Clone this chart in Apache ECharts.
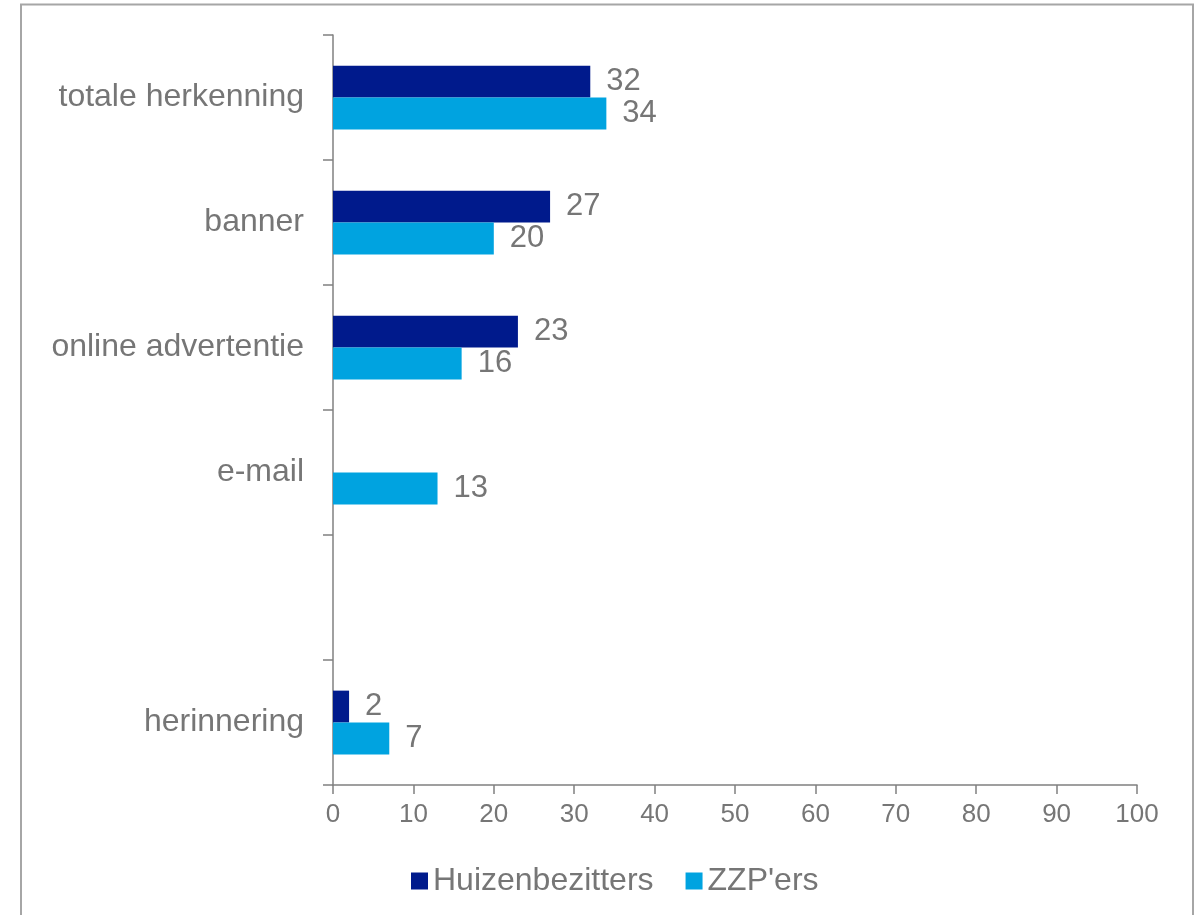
<!DOCTYPE html>
<html>
<head>
<meta charset="utf-8">
<script src="https://cdn.jsdelivr.net/npm/echarts@6/dist/echarts.min.js"></script>
<style>
  html, body { margin: 0; padding: 0; background: #ffffff; }
  #chart { width: 1198px; height: 915px; }
</style>
</head>
<body>
<div id="chart"></div>
<script>
// Categories, top to bottom (the blank slot keeps the gap above "herinnering")
const categories = ['totale herkenning', 'banner', 'online advertentie', 'e-mail', '', 'herinnering'];
const seriesNames = ['Huizenbezitters', "ZZP'ers"];
const huizenbezitters = [32, 27, 23, null, null, 2];
const zzpers = [34, 20, 16, 13, null, 7];
const xTicks = { min: 0, max: 100, interval: 10 };

const textColor = '#767676';
const axisColor = '#808080';
const font = 'Liberation Sans, Arial, sans-serif';

const chart = echarts.init(document.getElementById('chart'), null, { renderer: 'canvas' });

const labelStyle = {
  show: true,
  position: 'right',
  distance: 16,
  color: textColor,
  fontSize: 31,
  fontFamily: font
};

chart.setOption({
  backgroundColor: '#ffffff',
  animation: false,
  graphic: [{
    type: 'rect',
    shape: { x: 21, y: 4.5, width: 1172, height: 1000 },
    style: { fill: 'none', stroke: '#a6a6a6', lineWidth: 2 },
    silent: true
  }],
  grid: { left: 333, right: 61, top: 35, bottom: 130, containLabel: false },
  legend: {
    left: 406,
    top: 860,
    icon: 'rect',
    itemWidth: 17,
    itemHeight: 17,
    itemGap: 32,
    data: seriesNames,
    textStyle: { color: textColor, fontSize: 32, fontFamily: font, lineHeight: 30 }
  },
  xAxis: {
    type: 'value',
    min: xTicks.min,
    max: xTicks.max,
    interval: xTicks.interval,
    splitLine: { show: false },
    axisLine: { show: true, lineStyle: { color: axisColor, width: 1.5 } },
    axisTick: { show: true, length: 9, lineStyle: { color: axisColor, width: 1.5 } },
    axisLabel: { color: textColor, fontSize: 26, fontFamily: font, margin: 17 }
  },
  yAxis: {
    type: 'category',
    inverse: true,
    data: categories,
    axisLine: { show: true, lineStyle: { color: axisColor, width: 1.5 } },
    axisTick: { show: true, length: 10, lineStyle: { color: axisColor, width: 1.5 } },
    axisLabel: { color: textColor, fontSize: 32, fontFamily: font, margin: 29, padding: [3, 0, 0, 0] }
  },
  series: [
    {
      name: seriesNames[0],
      type: 'bar',
      data: huizenbezitters,
      barGap: '0%',
      barCategoryGap: '49%',
      itemStyle: { color: '#001a8c' },
      label: labelStyle
    },
    {
      name: seriesNames[1],
      type: 'bar',
      data: zzpers,
      barGap: '0%',
      barCategoryGap: '49%',
      itemStyle: { color: '#00a3e0' },
      label: labelStyle
    }
  ]
});
</script>
</body>
</html>
